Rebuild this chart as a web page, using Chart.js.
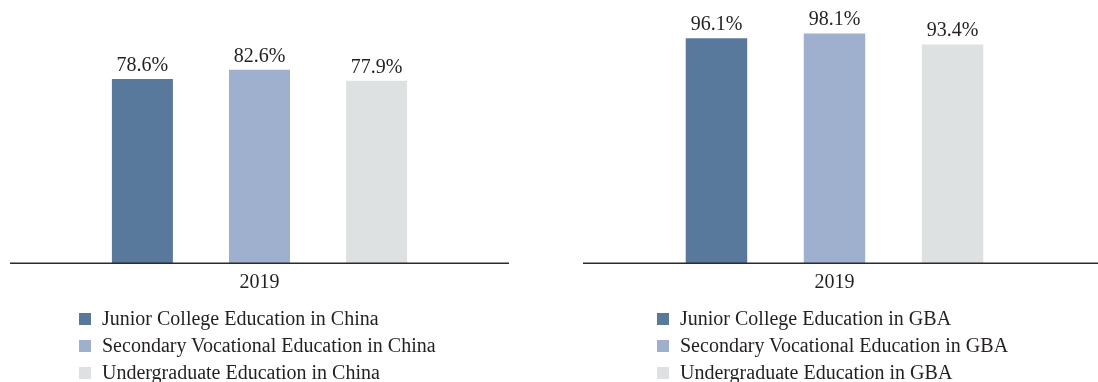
<!DOCTYPE html>
<html>
<head>
<meta charset="utf-8">
<script src="https://cdn.jsdelivr.net/npm/chart.js@4/dist/chart.umd.min.js"></script>
<style>
  html, body { margin: 0; padding: 0; background: #ffffff; }
  body { width: 1098px; height: 382px; position: relative; overflow: hidden; font-family: "Liberation Serif", "Times New Roman", serif; }
  canvas { position: absolute; top: 0; }
  .legend { position: absolute; top: 305px; color: #231f20; font-size: 20px; }
  .legend .row { height: 27px; line-height: 27px; white-space: nowrap; }
  .legend .box { display: inline-block; width: 12px; height: 12px; margin-right: 11px; vertical-align: baseline; }
</style>
</head>
<body>
<canvas id="chinaChart" width="520" height="308" style="left:0px"></canvas>
<canvas id="gbaChart" width="548" height="308" style="left:550px"></canvas>
<div class="legend" id="chinaLegend" style="left:79px"></div>
<div class="legend" id="gbaLegend" style="left:657px"></div>
<script>
// ---- data ----
const categories = ['2019'];
const chinaSeriesNames = [
  'Junior College Education in China',
  'Secondary Vocational Education in China',
  'Undergraduate Education in China'
];
const chinaValues = [78.6, 82.6, 77.9];
const gbaSeriesNames = [
  'Junior College Education in GBA',
  'Secondary Vocational Education in GBA',
  'Undergraduate Education in GBA'
];
const gbaValues = [96.1, 98.1, 93.4];
const seriesColors = ['#58799b', '#9eb0cd', '#dee1e2'];

const textColor = '#231f20';
const fontFamily = '"Liberation Serif", "Times New Roman", serif';

// value labels above bars
const valueLabelPlugin = {
  id: 'valueLabels',
  afterDatasetsDraw(chart) {
    const ctx = chart.ctx;
    ctx.save();
    ctx.font = '20px ' + fontFamily;
    ctx.fillStyle = textColor;
    ctx.textAlign = 'center';
    ctx.textBaseline = 'alphabetic';
    chart.data.datasets.forEach((ds, i) => {
      chart.getDatasetMeta(i).data.forEach((bar, j) => {
        ctx.fillText(ds.data[j].toFixed(1) + '%', bar.x, bar.y - 8);
      });
    });
    ctx.restore();
  }
};

// baseline along x axis
const baselinePlugin = {
  id: 'baseline',
  afterDatasetsDraw(chart, args, opts) {
    const ctx = chart.ctx;
    const a = chart.chartArea;
    const right = opts.toCanvasEdge ? chart.width : a.right;
    ctx.save();
    ctx.strokeStyle = '#2b2b2b';
    ctx.lineWidth = 1.5;
    ctx.beginPath();
    ctx.moveTo(a.left, a.bottom + 0.25);
    ctx.lineTo(right, a.bottom + 0.25);
    ctx.stroke();
    ctx.restore();
  }
};

function makeChart(canvasId, names, values, padding, toEdge) {
  const datasets = names.map((n, i) => ({
    label: n,
    data: [values[i]],
    backgroundColor: seriesColors[i],
    borderWidth: 0,
    categoryPercentage: 0.704,
    barPercentage: 0.521
  }));
  return new Chart(document.getElementById(canvasId), {
    type: 'bar',
    data: { labels: categories, datasets },
    options: {
      responsive: false,
      animation: false,
      layout: { padding },
      plugins: {
        legend: { display: false },
        tooltip: { enabled: false },
        baseline: { toCanvasEdge: toEdge }
      },
      scales: {
        x: {
          grid: { display: false, drawTicks: false },
          border: { display: false },
          ticks: { color: textColor, font: { family: fontFamily, size: 20 }, padding: 8 }
        },
        y: { display: false, min: 0, max: 100 }
      }
    },
    plugins: [valueLabelPlugin, baselinePlugin]
  });
}

makeChart('chinaChart', chinaSeriesNames, chinaValues, { top: 29, left: 10, right: 11, bottom: 5 }, false);
makeChart('gbaChart', gbaSeriesNames, gbaValues, { top: 29, left: 33, right: 12, bottom: 5 }, true);

function buildLegend(id, names) {
  const el = document.getElementById(id);
  names.forEach((n, i) => {
    const row = document.createElement('div');
    row.className = 'row';
    const box = document.createElement('span');
    box.className = 'box';
    box.style.background = seriesColors[i];
    row.appendChild(box);
    row.appendChild(document.createTextNode(n));
    el.appendChild(row);
  });
}
buildLegend('chinaLegend', chinaSeriesNames);
buildLegend('gbaLegend', gbaSeriesNames);
</script>
</body>
</html>
